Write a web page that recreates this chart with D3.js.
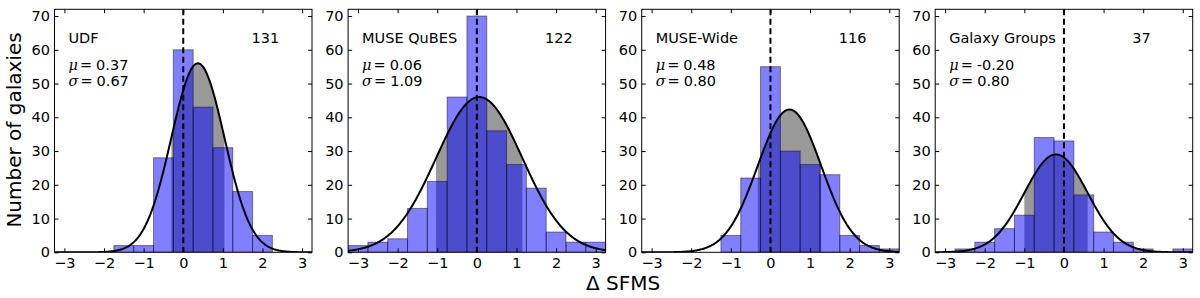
<!DOCTYPE html>
<html>
<head>
<meta charset="utf-8">
<script src="https://cdn.jsdelivr.net/npm/d3@7"></script>
<style>
  body { margin: 0; background: #fff; }
  svg { display: block; font-family: "DejaVu Sans", sans-serif; }
</style>
</head>
<body>
<div id="chart"></div>
<script>
const width = 1200;
const height = 298;

// histogram bins (centers, width 0.5)
const binCenters = [-3, -2.5, -2, -1.5, -1, -0.5, 0, 0.5, 1, 1.5, 2, 2.5, 3];
const udfCounts    = [0, 0, 0, 2, 2, 28, 60, 43, 31, 18, 5, 0, 0];
const qubesCounts  = [2, 3, 4, 13, 21, 46, 70, 36, 26, 19, 6, 3, 3];
const wideCounts   = [0, 0, 0, 0, 5, 22, 55, 30, 26, 23, 5, 2, 1];
const groupCounts  = [0, 1, 3, 7, 11, 34, 33, 17, 6, 3, 1, 0, 1];

const panelNames = ["UDF", "MUSE QuBES", "MUSE-Wide", "Galaxy Groups"];
const sampleSizes = [131, 122, 116, 37];
const fitMu = [0.37, 0.06, 0.48, -0.20];
const fitSigma = [0.67, 1.09, 0.80, 0.80];
const fitPeak = [56, 46, 42.3, 29];
const muLabels = ["0.37", "0.06", "0.48", "-0.20"];
const sigmaLabels = ["0.67", "1.09", "0.80", "0.80"];

const xTicks = [-3, -2, -1, 0, 1, 2, 3];
const yTicks = [0, 10, 20, 30, 40, 50, 60, 70];

const allCounts = [udfCounts, qubesCounts, wideCounts, groupCounts];
const binWidth = 0.5;

const panelW = 257.5;
const plotTop = 9.3, plotBottom = 252.3;
const lefts = [54.5, 348.1, 641.7, 935.2];
const fs = 14.5;

const svg = d3.select("#chart").append("svg")
    .attr("width", width)
    .attr("height", height);

const x = d3.scaleLinear().domain([-3.25, 3.25]).range([0, panelW]);
const y = d3.scaleLinear().domain([0, 72]).range([plotBottom, plotTop]);

const fmt = d => d < 0 ? "\u2212" + Math.abs(d) : String(d);

panelNames.forEach((name, i) => {
    const g = svg.append("g").attr("transform", `translate(${lefts[i]},0)`);
    const clipId = "clip" + i;
    g.append("clipPath").attr("id", clipId)
        .append("rect").attr("x", 0).attr("y", plotTop).attr("width", panelW).attr("height", plotBottom - plotTop);
    const plot = g.append("g").attr("clip-path", `url(#${clipId})`);

    const mu = fitMu[i], sig = fitSigma[i], peak = fitPeak[i];
    const gauss = v => peak * Math.exp(-((v - mu) ** 2) / (2 * sig * sig));

    // gray area under the fit within mu +- sigma
    const band = d3.range(mu - sig, mu + sig, 0.01).concat([mu + sig]);
    plot.append("path")
        .datum(band)
        .attr("fill", "#999999")
        .attr("d", d3.area().x(d => x(d)).y0(y(0)).y1(d => y(gauss(d))));

    // histogram bars
    const bins = binCenters.map((c, j) => ({ c, n: allCounts[i][j] })).filter(d => d.n > 0);
    plot.selectAll("rect.bar")
        .data(bins)
        .enter().append("rect")
        .attr("class", "bar")
        .attr("x", d => x(d.c - binWidth / 2))
        .attr("width", d => x(d.c + binWidth / 2) - x(d.c - binWidth / 2))
        .attr("y", d => y(d.n))
        .attr("height", d => y(0) - y(d.n))
        .attr("fill", "blue")
        .attr("fill-opacity", 0.5)
        .attr("stroke", "black")
        .attr("stroke-opacity", 0.45)
        .attr("stroke-width", 1);

    // gaussian fit curve
    const xs = d3.range(-3.25, 3.26, 0.02);
    plot.append("path")
        .datum(xs)
        .attr("fill", "none")
        .attr("stroke", "black")
        .attr("stroke-width", 2)
        .attr("d", d3.line().x(d => x(d)).y(d => y(gauss(d))));

    // dashed zero line
    plot.append("line")
        .attr("x1", x(0)).attr("x2", x(0))
        .attr("y1", plotTop).attr("y2", plotBottom)
        .attr("stroke", "black")
        .attr("stroke-width", 2)
        .attr("stroke-dasharray", "6,3.5");

    // axes
    const axB = g.append("g").attr("transform", `translate(0,${plotBottom})`)
        .call(d3.axisBottom(x).tickValues(xTicks).tickSize(-4).tickPadding(5.4).tickFormat(fmt));
    const axT = g.append("g").attr("transform", `translate(0,${plotTop})`)
        .call(d3.axisTop(x).tickValues(xTicks).tickSize(-4).tickFormat(""));
    const axL = g.append("g")
        .call(d3.axisLeft(y).tickValues(yTicks).tickSize(-4).tickPadding(4.5));
    const axR = g.append("g").attr("transform", `translate(${panelW},0)`)
        .call(d3.axisRight(y).tickValues(yTicks).tickSize(-4).tickFormat(""));
    [axB, axT, axL, axR].forEach(a => {
        a.select(".domain").remove();
        a.selectAll("text").attr("font-size", fs).attr("fill", "black")
            .attr("font-family", "DejaVu Sans");
        a.selectAll("line").attr("stroke", "black");
    });

    g.append("rect")
        .attr("x", 0).attr("y", plotTop)
        .attr("width", panelW).attr("height", plotBottom - plotTop)
        .attr("fill", "none").attr("stroke", "black").attr("stroke-width", 1);

    // annotations
    g.append("text").attr("x", 14).attr("y", 43).attr("font-size", fs)
        .text(name);
    g.append("text").attr("x", 197).attr("y", 43).attr("font-size", fs)
        .text(sampleSizes[i]);

    const t1 = g.append("text").attr("x", 14).attr("y", 69.5).attr("font-size", fs);
    t1.append("tspan").attr("font-family", "DejaVu Serif").attr("font-style", "italic").text("\u03bc");
    t1.append("tspan").attr("font-family", "DejaVu Serif").attr("dx", 2).text("=");
    t1.append("tspan").attr("dx", 4).text(muLabels[i]);
    const t2 = g.append("text").attr("x", 14).attr("y", 86).attr("font-size", fs);
    t2.append("tspan").attr("font-family", "DejaVu Serif").attr("font-style", "italic").text("\u03c3");
    t2.append("tspan").attr("font-family", "DejaVu Serif").attr("dx", 2).text("=");
    t2.append("tspan").attr("dx", 4).text(sigmaLabels[i]);
});

svg.append("text")
    .attr("transform", "translate(21,130) rotate(-90)")
    .attr("text-anchor", "middle")
    .attr("font-size", 20)
    .text("Number of galaxies");

svg.append("text")
    .attr("x", 623).attr("y", 290)
    .attr("text-anchor", "middle")
    .attr("font-size", 20)
    .text("\u0394 SFMS");
</script>
</body>
</html>
